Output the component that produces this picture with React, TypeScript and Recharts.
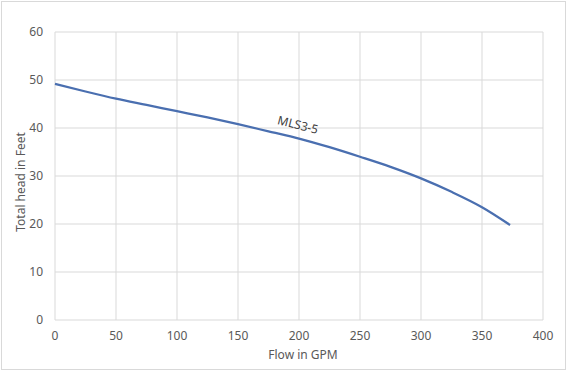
import { CartesianGrid, LabelList, Line, LineChart, XAxis, YAxis } from "recharts";

const flowGpm = [0, 25, 50, 75, 100, 125, 150, 175, 200, 225, 250, 275, 300, 325, 350, 373];
const headFeet = [49.2, 47.6, 46.1, 44.8, 43.5, 42.2, 40.8, 39.3, 37.8, 36.0, 34.0, 31.9, 29.5, 26.7, 23.5, 19.8];
const xTicks = [0, 50, 100, 150, 200, 250, 300, 350, 400];
const yTicks = [0, 10, 20, 30, 40, 50, 60];
const seriesName = "MLS3-5";
const labelAtFlow = 200;

const FONT = "'Noto Sans', sans-serif";
const TEXT = "#595959";
const GRID = "#d9d9d9";

const data = flowGpm.map((flow, i) => ({ flow, head: headFeet[i] }));

function SeriesLabel(props: any) {
  const { x, y, index } = props;
  if (flowGpm[index] !== labelAtFlow) return null;
  const cx = x - 1;
  const cy = y - 14;
  return (
    <text
      x={cx}
      y={cy}
      textAnchor="middle"
      dominantBaseline="central"
      transform={`rotate(14 ${cx} ${cy})`}
      fill="#404040"
      fontSize={12}
      fontFamily={FONT}
    >
      {seriesName}
    </text>
  );
}

export default function App() {
  return (
    <div style={{ position: "absolute", left: 0, top: 0, width: 577, height: 371, background: "#fff" }}>
      <div
        style={{
          position: "absolute",
          left: 1,
          top: 1,
          width: 565,
          height: 369,
          border: `1px solid ${GRID}`,
          boxSizing: "border-box",
        }}
      />
      <div style={{ position: "absolute", left: 0, top: 0 }}>
        <LineChart width={577} height={371} data={data} margin={{ top: 32, right: 34, bottom: 21, left: 0 }}>
          <CartesianGrid stroke={GRID} strokeWidth={1} />
          <XAxis
            dataKey="flow"
            type="number"
            domain={[0, 400]}
            ticks={xTicks}
            axisLine={false}
            tickLine={false}
            tickMargin={5}
            height={30}
            tick={{ fill: TEXT, fontSize: 12, fontFamily: FONT }}
          />
          <YAxis
            type="number"
            domain={[0, 60]}
            ticks={yTicks}
            axisLine={false}
            tickLine={false}
            tickMargin={6}
            width={55}
            tick={{ fill: TEXT, fontSize: 12, fontFamily: FONT }}
          />
          <Line
            type="monotone"
            dataKey="head"
            stroke="#4A6FB0"
            strokeWidth={2.25}
            dot={false}
            isAnimationActive={false}
          >
            <LabelList dataKey="head" content={SeriesLabel} />
          </Line>
          <text x={303} y={354} textAnchor="middle" dominantBaseline="central" fill={TEXT} fontSize={12} fontFamily={FONT}>
            Flow in GPM
          </text>
          <text
            x={20}
            y={182}
            textAnchor="middle"
            dominantBaseline="central"
            transform="rotate(-90 20 182)"
            fill={TEXT}
            fontSize={12}
            fontFamily={FONT}
          >
            Total head in Feet
          </text>
        </LineChart>
      </div>
    </div>
  );
}
